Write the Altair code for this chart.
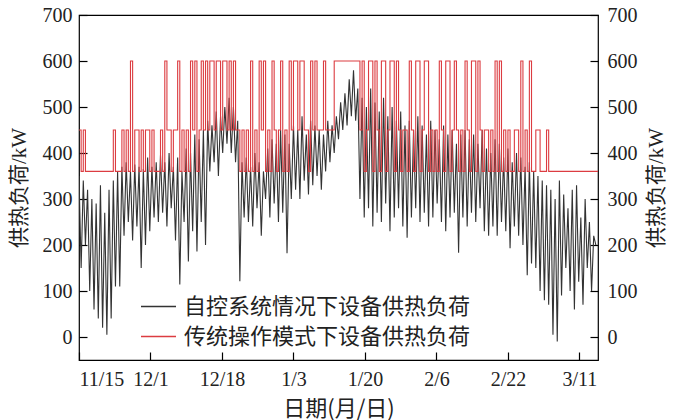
import altair as alt
import pandas as pd

# ---------------- data ----------------
series_names = ["自控系统情况下设备供热负荷", "传统操作模式下设备供热负荷"]
series_colors = ["#333333", "#dc3c41"]

tick_hours = [0, 400, 800, 1200, 1600, 2000, 2400, 2800]
tick_labels = ["11/15", "12/1", "12/18", "1/3", "1/20", "2/6", "2/22", "3/11"]
y_ticks = [0, 100, 200, 300, 400, 500, 600, 700]

# daily high / low of the self-controlled load (kW), day 0 = 11/15
daily_high = [
    350, 340, 320, 300, 290, 330, 270, 320, 340, 360,
    370, 380, 360, 375, 370, 365, 390, 370, 380, 395,
    380, 400, 370, 390, 360, 410, 400, 440, 430, 450,
    470, 460, 490, 480, 500, 520, 500, 470, 380, 390,
    370, 400, 380, 360, 410, 430, 420, 450, 440, 420,
    460, 450, 480, 440, 470, 460, 450, 440, 470, 460,
    480, 510, 530, 560, 580, 540, 520, 500, 540, 510,
    490, 520, 480, 500, 470, 490, 460, 470, 450, 480,
    460, 440, 470, 450, 430, 460, 440, 450, 420, 440,
    450, 430, 440, 420, 450, 410, 400, 430, 420, 390,
    410, 380, 400, 390, 370, 380, 360, 350, 340, 330,
    320, 300, 340, 310, 280, 320, 330, 260, 300, 250, 220,
]
daily_low = [
    150, 200, 100, 60, 40, 20, 5, 40, 110, 110,
    220, 250, 210, 240, 150, 200, 230, 260, 250, 270,
    240, 280, 210, 114, 250, 164, 230, 186, 250, 200,
    360, 380, 350, 400, 420, 400, 380, 121, 260, 250,
    240, 280, 220, 300, 260, 290, 250, 270, 182, 300,
    320, 300, 340, 310, 330, 350, 320, 360, 380, 400,
    430, 450, 460, 480, 470, 300, 260, 280, 240, 270,
    250, 290, 230, 260, 280, 240, 216, 260, 280, 250,
    270, 240, 260, 290, 250, 230, 260, 270, 183, 260,
    240, 270, 250, 280, 230, 220, 240, 220, 250, 230,
    193, 240, 220, 200, 134, 160, 150, 100, 80, 70,
    5, -10, 90, 150, 100, 60, 120, 70, 150, 100, 200,
]

# traditional mode: level codes per half day (0 -> 360, 1 -> 450, 2 -> 600)
red_levels = [360, 450, 600]
red_halfday = [
    (1, 0), (1, 0), (0, 0), (0, 0), (0, 0), (0, 0), (0, 0), (0, 0), (1, 0), (0, 0),
    (1, 0), (1, 0), (2, 0), (1, 1), (0, 1), (0, 1), (1, 0), (1, 0), (0, 0), (1, 0),
    (2, 1), (1, 0), (1, 1), (2, 0), (1, 0), (1, 0), (2, 1), (2, 0), (1, 2), (1, 2),
    (1, 2), (2, 1), (2, 2), (1, 2), (2, 1), (2, 1), (2, 1), (1, 0), (1, 0), (1, 0),
    (2, 0), (1, 0), (2, 1), (2, 0), (1, 0), (2, 1), (0, 1), (2, 0), (1, 0), (2, 1),
    (2, 2), (1, 2), (2, 1), (1, 0), (2, 1), (2, 1), (1, 1), (2, 1), (1, 1), (1, 2),
    (2, 2), (2, 2), (2, 2), (2, 2), (2, 2), (2, 1), (2, 0), (1, 2), (2, 0), (2, 1),
    (0, 2), (2, 0), (1, 2), (2, 0), (2, 1), (0, 1), (1, 0), (2, 1), (0, 2), (2, 0),
    (1, 2), (2, 0), (1, 0), (1, 0), (2, 1), (0, 2), (2, 0), (1, 2), (1, 0), (1, 0),
    (2, 1), (0, 2), (2, 0), (2, 1), (0, 1), (1, 0), (1, 0), (2, 0), (2, 0), (1, 0),
    (1, 0), (0, 1), (1, 0), (2, 0), (1, 0), (2, 0), (0, 1), (1, 0), (0, 0), (1, 0),
    (0, 0), (0, 0), (0, 0), (0, 0), (0, 0), (0, 0), (0, 0), (0, 0), (0, 0), (0, 0), (0, 0),
]

total_hours = 2904

# ---------------- tables ----------------
black_rows = []
for d, (hi, lo) in enumerate(zip(daily_high, daily_low)):
    black_rows.append({"t": 24 * d, "v": hi, "s": series_names[0]})
    black_rows.append({"t": 24 * d + 12, "v": lo, "s": series_names[0]})
black_df = pd.DataFrame(black_rows)

red_rows = []
i = 0
for pair in red_halfday:
    for c in pair:
        red_rows.append({"t": 12 * i, "v": red_levels[c], "s": series_names[1]})
        i += 1
red_rows.append({"t": total_hours, "v": red_rows[-1]["v"], "s": series_names[1]})
red_df = pd.DataFrame(red_rows)

# ---------------- chart ----------------
W, H = 519, 345
NUM_FONT = "Liberation Serif"
MIX_FONT = "'Liberation Serif', 'Noto Sans CJK SC'"
CJK_FONT = "Noto Sans CJK SC"

label_arr = "[" + ",".join("'%s'" % s for s in tick_labels) + "]"

xscale = alt.Scale(domain=[0, total_hours], nice=False, zero=False)
yscale = alt.Scale(domain=[-50, 700], nice=False, zero=False)
cscale = alt.Scale(domain=series_names, range=series_colors)

legend = alt.Legend(
    orient="none", legendX=61, legendY=273, title=None,
    symbolType="stroke", symbolSize=1225, symbolStrokeWidth=1.3,
    labelFont=CJK_FONT, labelFontSize=22, labelColor="#222",
    labelOffset=7, rowPadding=-4, padding=0, labelLimit=400,
)

x_main = alt.Axis(
    orient="bottom", values=tick_hours, labelExpr=label_arr + "[round(datum.value/400)]",
    tickSize=0, domain=False, grid=False, labelFont=NUM_FONT, labelFontSize=20,
    labelPadding=9, labelColor="#222",
    title="日期(月/日)", titleFont=CJK_FONT, titleFontSize=22, titleFontWeight="normal",
    titleColor="#222", titleX=W / 2, titleY=48, titleBaseline="middle", titleAlign="center",
)
x_ticks_in = alt.Axis(
    orient="top", offset=-H, values=tick_hours, labels=False, domain=False, grid=False,
    ticks=True, tickSize=8, tickWidth=1.2, tickColor="#000", title=None,
)
y_left = alt.Axis(
    orient="left", values=y_ticks, tickSize=0, domain=False, grid=False,
    labelFont=NUM_FONT, labelFontSize=20, labelPadding=7, labelColor="#222",
    title="供热负荷/kW", titleFont=MIX_FONT, titleFontSize=21, titleFontWeight="normal",
    titleColor="#222", titleAngle=270, titleX=-60, titleY=H / 2,
    titleBaseline="middle", titleAlign="center",
)
y_right = alt.Axis(
    orient="right", values=y_ticks, tickSize=0, domain=False, grid=False,
    labelFont=NUM_FONT, labelFontSize=20, labelPadding=9, labelColor="#222",
    title="供热负荷/kW", titleFont=MIX_FONT, titleFontSize=21, titleFontWeight="normal",
    titleColor="#222", titleAngle=270, titleX=58, titleY=H / 2,
    titleBaseline="middle", titleAlign="center",
)
y_ticks_left_in = alt.Axis(
    orient="right", offset=-W, values=y_ticks, labels=False, domain=False, grid=False,
    ticks=True, tickSize=8, tickWidth=1.2, tickColor="#000", title=None,
)
y_ticks_right_in = alt.Axis(
    orient="left", offset=-W, values=y_ticks, labels=False, domain=False, grid=False,
    ticks=True, tickSize=8, tickWidth=1.2, tickColor="#000", title=None,
)

black = alt.Chart(black_df).mark_line(strokeWidth=1.1, clip=True).encode(
    x=alt.X("t:Q", scale=xscale, axis=x_main),
    y=alt.Y("v:Q", scale=yscale, axis=y_left),
    color=alt.Color("s:N", scale=cscale, legend=legend),
)
red = alt.Chart(red_df).mark_line(strokeWidth=1.1, interpolate="step-after", clip=True).encode(
    x=alt.X("t:Q", scale=xscale, axis=x_ticks_in),
    y=alt.Y("v:Q", scale=yscale, axis=y_right),
    color=alt.Color("s:N", scale=cscale, legend=legend),
)
ghost1 = alt.Chart(black_df).mark_point(opacity=0).encode(
    x=alt.X("t:Q", scale=xscale, axis=None),
    y=alt.Y("v:Q", scale=yscale, axis=y_ticks_left_in),
)
ghost2 = alt.Chart(black_df).mark_point(opacity=0).encode(
    x=alt.X("t:Q", scale=xscale, axis=None),
    y=alt.Y("v:Q", scale=yscale, axis=y_ticks_right_in),
)

chart = (
    alt.layer(black, red, ghost1, ghost2)
    .resolve_axis(x="independent", y="independent")
    .properties(
        width=W, height=H,
        autosize=alt.AutoSizeParams(type="none"),
        padding={"left": 71, "top": 7, "right": 71, "bottom": 60},
        background="white",
    )
    .configure_view(stroke="#000", strokeWidth=1.2)
)

chart.save("out.html", embed_options={"renderer": "svg", "actions": False})
